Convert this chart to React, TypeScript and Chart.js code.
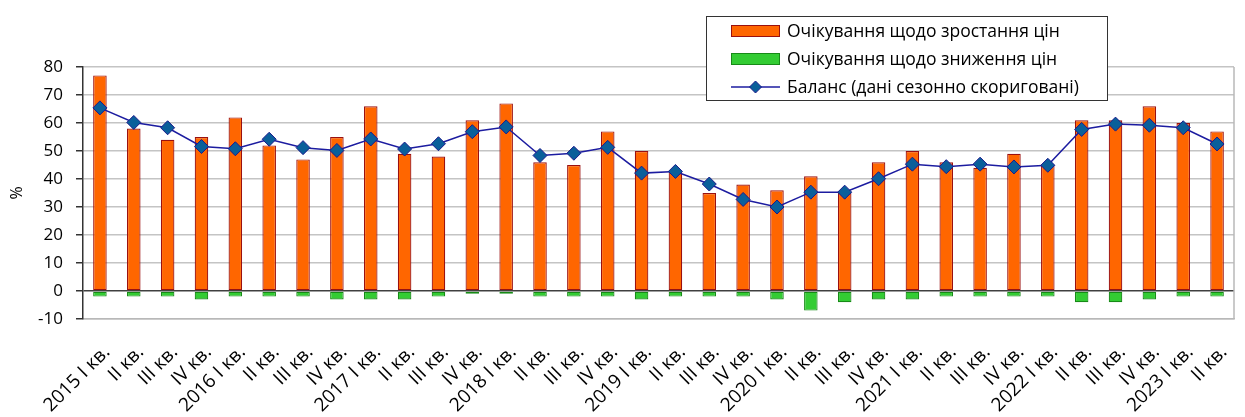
import React, { useEffect, useRef } from "react";
import { Chart, registerables } from "chart.js";

Chart.register(...registerables);

const categories = [
  "2015 I кв.", "II кв.", "III кв.", "IV кв.",
  "2016 I кв.", "II кв.", "III кв.", "IV кв.",
  "2017 I кв.", "II кв.", "III кв.", "IV кв.",
  "2018 I кв.", "II кв.", "III кв.", "IV кв.",
  "2019 I кв.", "II кв.", "III кв.", "IV кв.",
  "2020 I кв.", "II кв.", "III кв.", "IV кв.",
  "2021 I кв.", "II кв.", "III кв.", "IV кв.",
  "2022 I кв.", "II кв.", "III кв.", "IV кв.",
  "2023 I кв.", "II кв.",
];

const growth = [
  77, 58, 54, 55, 62, 52, 47, 55, 66, 49,
  48, 61, 67, 46, 45, 57, 50, 43, 35, 38,
  36, 41, 35, 46, 50, 46, 44, 49, 45, 61,
  61, 66, 60, 57,
];

const decline = [
  -2, -2, -2, -3, -2, -2, -2, -3, -3, -3,
  -2, -1, -1, -2, -2, -2, -3, -2, -2, -2,
  -3, -7, -4, -3, -3, -2, -2, -2, -2, -4,
  -4, -3, -2, -2,
];

const balance = [
  65.4, 60.2, 58.3, 51.6, 50.8, 54.2, 51.2, 50.2, 54.3, 50.7,
  52.6, 56.9, 58.6, 48.4, 49.2, 51.3, 42.1, 42.7, 38.2, 32.7,
  30.0, 35.3, 35.3, 40.1, 45.3, 44.4, 45.3, 44.3, 44.9, 57.7,
  59.6, 59.2, 58.3, 52.5,
];

const yTicks = { min: -10, max: 80, step: 10 };

const labelGrowth = "Очікування щодо зростання цін";
const labelDecline = "Очікування щодо зниження цін";
const labelBalance = "Баланс (дані сезонно скориговані)";

const FONT = "'Open Sans', 'DejaVu Sans', sans-serif";

const legendPlugin = {
  id: "boxLegend",
  afterDraw(chart: any) {
    const ctx = chart.ctx;
    const area = chart.chartArea;
    ctx.save();
    // right border of plot area
    ctx.strokeStyle = "#b8b8b8";
    ctx.lineWidth = 1.5;
    ctx.beginPath();
    ctx.moveTo(area.right, area.top);
    ctx.lineTo(area.right, area.bottom);
    ctx.stroke();

    // legend box
    const bx = 706.5, by = 16.5, bw = 401, bh = 84;
    ctx.fillStyle = "#ffffff";
    ctx.fillRect(bx, by, bw, bh);
    ctx.strokeStyle = "#333333";
    ctx.lineWidth = 1;
    ctx.strokeRect(bx, by, bw, bh);

    const ds = chart.data.datasets;
    const items = [ds[1], ds[2], ds[0]];
    const rows = [31, 59, 87];
    ctx.font = `17.5px ${FONT}`;
    ctx.textBaseline = "middle";
    items.forEach((d: any, i: number) => {
      const y = rows[i];
      if (d.type === "line") {
        ctx.strokeStyle = d.borderColor;
        ctx.lineWidth = 1.5;
        ctx.beginPath();
        ctx.moveTo(731, y);
        ctx.lineTo(780, y);
        ctx.stroke();
        ctx.fillStyle = d.pointBackgroundColor;
        ctx.strokeStyle = d.pointBorderColor;
        ctx.lineWidth = 1;
        ctx.beginPath();
        ctx.moveTo(755.5, y - 6);
        ctx.lineTo(761.5, y);
        ctx.lineTo(755.5, y + 6);
        ctx.lineTo(749.5, y);
        ctx.closePath();
        ctx.fill();
        ctx.stroke();
      } else {
        ctx.fillStyle = d.backgroundColor;
        ctx.fillRect(731.5, y - 5.5, 48, 11);
        ctx.strokeStyle = d.borderColor;
        ctx.lineWidth = 1;
        ctx.strokeRect(731.5, y - 5.5, 48, 11);
      }
      ctx.fillStyle = "#000000";
      ctx.textAlign = "left";
      ctx.fillText(d.label, 787, y + 1);
    });
    ctx.restore();
  },
};

export default function App() {
  const canvasRef = useRef<HTMLCanvasElement | null>(null);

  useEffect(() => {
    const canvas = canvasRef.current;
    if (!canvas) return;
    const chart = new Chart(canvas, {
      type: "bar",
      data: {
        labels: categories,
        datasets: [
          {
            type: "line",
            label: labelBalance,
            data: balance,
            borderColor: "#1c1ca0",
            borderWidth: 1.5,
            pointStyle: "rectRot",
            pointRadius: 7,
            pointBackgroundColor: "#0a5f9a",
            pointBorderColor: "#1a1a8c",
            pointBorderWidth: 1,
            tension: 0,
            order: 0,
          } as any,
          {
            type: "bar",
            label: labelGrowth,
            data: growth,
            backgroundColor: "#ff6600",
            borderColor: "#9a1010",
            borderWidth: 1.2,
            borderSkipped: false,
            barPercentage: 0.4,
            categoryPercentage: 1,
            order: 1,
          },
          {
            type: "bar",
            label: labelDecline,
            data: decline,
            backgroundColor: "#33cc33",
            borderColor: "#178a17",
            borderWidth: 1.2,
            borderSkipped: false,
            barPercentage: 0.4,
            categoryPercentage: 1,
            order: 1,
          },
        ],
      },
      options: {
        responsive: false,
        animation: false,
        devicePixelRatio: 1,
        layout: { padding: { left: 0, right: 11, top: 67, bottom: 0 } },
        plugins: {
          legend: { display: false },
          title: { display: false },
          tooltip: { enabled: false },
        },
        scales: {
          x: {
            stacked: true,
            grid: { display: false },
            border: { display: true, color: "#b8b8b8", width: 1.5 },
            ticks: {
              autoSkip: false,
              minRotation: 45,
              maxRotation: 45,
              color: "#000000",
              font: { family: FONT, size: 19 },
              padding: 14,
              labelOffset: 7,
            },
            afterFit(scale: any) {
              scale.height = 98;
              scale.paddingLeft = 0;
              scale.paddingRight = 0;
            },
          },
          y: {
            min: yTicks.min,
            max: yTicks.max,
            ticks: {
              stepSize: yTicks.step,
              color: "#000000",
              font: { family: FONT, size: 17 },
              padding: 13,
            },
            grid: {
              color: (c: any) => (c.tick && c.tick.value === 0 ? "#404040" : "#c4c4c4"),
              lineWidth: 1.5,
              tickColor: "#333333",
              tickLength: 7,
            },
            border: { display: true, color: "#333333", width: 1.5 },
            title: {
              display: true,
              text: "%",
              color: "#000000",
              font: { family: FONT, size: 16 },
              padding: { top: 8, bottom: 0 },
            },
            afterFit(scale: any) {
              scale.width = 83;
            },
          },
        },
      },
      plugins: [legendPlugin],
    });
    return () => chart.destroy();
  }, []);

  return (
    <div style={{ position: "fixed", left: 0, top: 0, width: 1245, height: 417, background: "#fff" }}>
      <canvas ref={canvasRef} width={1245} height={417} />
    </div>
  );
}
